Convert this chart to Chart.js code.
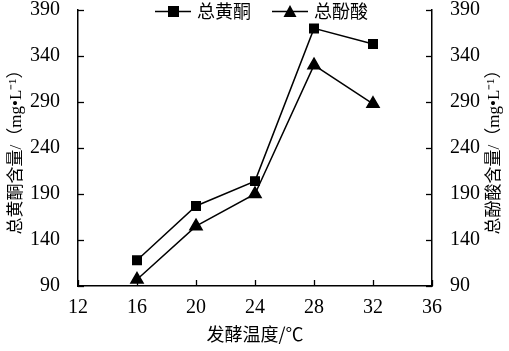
<!DOCTYPE html>
<html><head><meta charset="utf-8">
<script src="https://cdn.jsdelivr.net/npm/chart.js@4.4.1/dist/chart.umd.min.js"></script>
<style>html,body{margin:0;padding:0;background:#fff}#wrap{width:509px;height:351px}</style>
</head><body><div id="wrap"><canvas id="c" width="509" height="351"></canvas></div>
<script>
const temperatures = [16, 20, 24, 28, 32];
const flavonoids = [118, 177, 204, 370, 353];
const phenolicAcids = [97, 155, 190, 330, 288];
const seriesNames = ['总黄酮', '总酚酸'];
const xTitle = '发酵温度/℃';
const yTitleLeft = '总黄酮含量/（mg•L⁻¹）';
const yTitleRight = '总酚酸含量/（mg•L⁻¹）';

const serifFam = "'Times New Roman', 'Liberation Serif', 'Noto Sans CJK SC', serif";
const numFont = {family: serifFam, size: 20};
const cjkFont = {family: serifFam, size: 17};

const innerTicks = {
  id: 'innerTicks',
  afterDraw(chart) {
    const ctx = chart.ctx, a = chart.chartArea;
    ctx.save();
    ctx.strokeStyle = '#000'; ctx.lineWidth = 1.3;
    const L = 6;
    chart.scales.x.ticks.forEach(t => {
      const px = Math.round(chart.scales.x.getPixelForValue(t.value)) + 0.5;
      ctx.beginPath(); ctx.moveTo(px, a.bottom); ctx.lineTo(px, a.bottom - L); ctx.stroke();
    });
    chart.scales.y.ticks.forEach(t => {
      const py = Math.round(chart.scales.y.getPixelForValue(t.value)) + 0.5;
      ctx.beginPath(); ctx.moveTo(a.left, py); ctx.lineTo(a.left + L, py); ctx.stroke();
    });
    chart.scales.y2.ticks.forEach(t => {
      const py = Math.round(chart.scales.y2.getPixelForValue(t.value)) + 0.5;
      ctx.beginPath(); ctx.moveTo(a.right, py); ctx.lineTo(a.right - L, py); ctx.stroke();
    });
    ctx.save();
    ctx.translate(495, (a.top + a.bottom) / 2);
    ctx.rotate(-Math.PI / 2);
    ctx.fillStyle = '#000';
    ctx.font = "17px " + serifFam;
    ctx.textAlign = 'center'; ctx.textBaseline = 'middle';
    ctx.fillText(yTitleRight, 0, 0);
    ctx.restore();
    ctx.restore();
  }
};

const customLegend = {
  id: 'customLegend',
  afterDraw(chart) {
    const ctx = chart.ctx;
    ctx.save();
    const y = 11;
    const items = [
      {x: 155, style: 'rect', text: seriesNames[0]},
      {x: 272, style: 'triangle', text: seriesNames[1]}
    ];
    ctx.fillStyle = '#fff';
    ctx.fillRect(153, 1, 228, 20);
    items.forEach(it => {
      ctx.strokeStyle = '#000'; ctx.lineWidth = 1.3;
      ctx.beginPath(); ctx.moveTo(it.x, y + 0.5); ctx.lineTo(it.x + 36, y + 0.5); ctx.stroke();
      ctx.fillStyle = '#000';
      const cx = it.x + 18;
      if (it.style === 'rect') ctx.fillRect(cx - 5, y - 5, 11, 11);
      else { ctx.beginPath(); ctx.moveTo(cx, y - 6); ctx.lineTo(cx + 6.5, y + 6); ctx.lineTo(cx - 6.5, y + 6); ctx.closePath(); ctx.fill(); }
      ctx.font = "18px 'Noto Sans CJK SC'";
      ctx.textBaseline = 'middle'; ctx.textAlign = 'left';
      ctx.fillText(it.text, it.x + 42, y);
    });
    ctx.restore();
  }
};

function fixY(width) {
  return function (s) { s.width = width; s.paddingTop = 0; s.paddingBottom = 0; };
}

new Chart(document.getElementById('c'), {
  type: 'line',
  data: {
    datasets: [
      {label: seriesNames[0], data: temperatures.map((t, i) => ({x: t, y: flavonoids[i]})), yAxisID: 'y',
       borderColor: '#000', backgroundColor: '#000', borderWidth: 1.5, pointStyle: 'rect', pointRadius: 6, pointHoverRadius: 6, tension: 0},
      {label: seriesNames[1], data: temperatures.map((t, i) => ({x: t, y: phenolicAcids[i]})), yAxisID: 'y2',
       borderColor: '#000', backgroundColor: '#000', borderWidth: 1.5, pointStyle: 'triangle', pointRadius: 7, pointHoverRadius: 7, tension: 0}
    ]
  },
  options: {
    responsive: false, animation: false, events: [],
    layout: {padding: {top: 10, left: 0, right: 0, bottom: 0}},
    plugins: {legend: {display: false}, tooltip: {enabled: false}},
    scales: {
      x: {type: 'linear', min: 12, max: 36, ticks: {stepSize: 4, color: '#000', font: numFont, padding: 2},
          grid: {display: false}, border: {display: true, color: '#000', width: 1.5},
          title: {display: true, text: xTitle, color: '#000', font: {family: "'Noto Sans CJK SC'", size: 18}, padding: {top: 2, bottom: 6}},
          afterFit(s) { s.height = 65; s.paddingLeft = 0; s.paddingRight = 0; }},
      y: {type: 'linear', position: 'left', min: 90, max: 390, ticks: {stepSize: 50, color: '#000', font: numFont, padding: 10},
          grid: {display: false}, border: {display: true, color: '#000', width: 1.5},
          title: {display: true, text: yTitleLeft, color: '#000', font: cjkFont, padding: {top: 6, bottom: 0}},
          afterFit: fixY(78)},
      y2: {type: 'linear', position: 'right', min: 90, max: 390, ticks: {stepSize: 50, color: '#000', font: numFont, padding: 10},
          grid: {display: false}, border: {display: true, color: '#000', width: 1.5},
          title: {display: false},
          afterFit: fixY(77)}
    }
  },
  plugins: [innerTicks, customLegend]
});
</script></body></html>
